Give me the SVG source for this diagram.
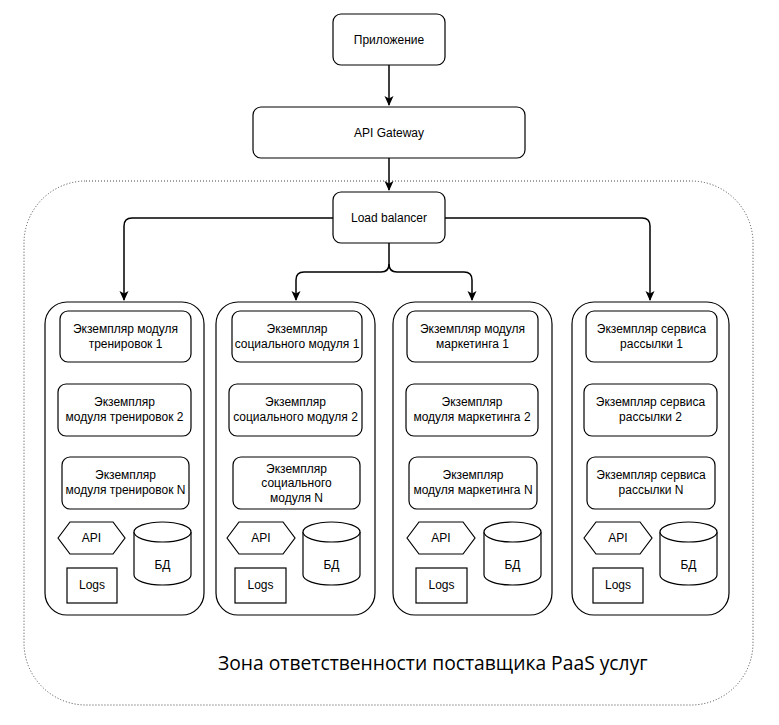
<svg xmlns="http://www.w3.org/2000/svg" width="779" height="725" viewBox="0 0 779 725">
<defs>
<style>
.box{fill:#fff;stroke:#000;stroke-width:1.2}
.col{fill:#fff;stroke:#000;stroke-width:1.2}
.t{font-family:"Liberation Sans",Arial,sans-serif;font-size:12px;fill:#000;text-anchor:middle}
.conn{fill:none;stroke:#000;stroke-width:1.5}
.zone{fill:none;stroke:#444;stroke-width:1;stroke-dasharray:1 2}
.big{font-family:"Open Sans","Noto Sans",sans-serif;font-size:19.3px;fill:#000}
</style>
<marker id="arr" markerWidth="11" markerHeight="11" refX="9" refY="5" orient="auto" markerUnits="userSpaceOnUse" viewBox="0 0 11 11">
<path d="M0,0.5 L10,5 L0,9.5 L2.5,5 Z" fill="#000"/>
</marker>
</defs>
<rect width="779" height="725" fill="#fff"/>
<g id="zone">
<rect class="zone" x="24" y="181" width="729" height="524" rx="62" ry="62"/>
<text class="big" x="218" y="670">Зона ответственности поставщика PaaS услуг</text>
</g>
<g id="connectors">
<path class="conn" d="M389,65 L389,105" marker-end="url(#arr)"/>
<path class="conn" d="M389,158 L389,190" marker-end="url(#arr)"/>
<path class="conn" d="M333,218 L132,218 Q124,218 124,226 L124,300" marker-end="url(#arr)"/>
<path class="conn" d="M445,218 L642,218 Q650,218 650,226 L650,300" marker-end="url(#arr)"/>
<path class="conn" d="M389,243 L389,264 Q389,272 381,272 L304,272 Q296,272 296,280 L296,300" marker-end="url(#arr)"/>
<path class="conn" d="M389,264 Q389,272 397,272 L464,272 Q472,272 472,280 L472,300" marker-end="url(#arr)"/>
</g>
<g id="app"><rect class="box" x="333" y="14" width="112" height="51" rx="8"/><text class="t" x="389" y="44">Приложение</text></g>
<g id="gateway"><rect class="box" x="253" y="107" width="272" height="51" rx="8"/><text class="t" x="389" y="137">API Gateway</text></g>
<g id="lb"><rect class="box" x="333" y="192" width="112" height="51" rx="8"/><text class="t" x="389" y="222">Load balancer</text></g>

<g id="col1">
<rect class="col" x="45" y="302" width="159" height="313" rx="22"/>
<rect class="box" x="60" y="311" width="131" height="51" rx="8"/>
<text class="t" x="125.5" y="333">Экземпляр модуля</text><text class="t" x="125.5" y="348">тренировок 1</text>
<rect class="box" x="58" y="384" width="133" height="52" rx="8"/>
<text class="t" x="124.5" y="406">Экземпляр</text><text class="t" x="124.5" y="421">модуля тренировок 2</text>
<rect class="box" x="62" y="457" width="127" height="52" rx="8"/>
<text class="t" x="125.5" y="479">Экземпляр</text><text class="t" x="125.5" y="494">модуля тренировок N</text>
<polygon class="box" points="58,538 70,522 113,522 125,538 113,554 70,554"/><text class="t" x="91.5" y="542">API</text>
<path class="box" d="M134,532 A28.5,10 0 0 1 191,532 L191,575 A28.5,10 0 0 1 134,575 Z"/><path class="box" fill="none" d="M134,532 A28.5,10 0 0 0 191,532"/><text class="t" x="162.5" y="569">БД</text>
<rect class="box" x="67" y="568" width="50" height="35"/><text class="t" x="92" y="589">Logs</text>
</g>

<g id="col2">
<rect class="col" x="216" y="302" width="159" height="313" rx="22"/>
<rect class="box" x="232" y="311" width="130" height="51" rx="8"/>
<text class="t" x="297" y="333">Экземпляр</text><text class="t" x="297" y="348">социального модуля 1</text>
<rect class="box" x="229" y="384" width="133" height="52" rx="8"/>
<text class="t" x="295.5" y="406">Экземпляр</text><text class="t" x="295.5" y="421">социального модуля 2</text>
<rect class="box" x="233" y="457" width="127" height="52" rx="8"/>
<text class="t" x="296.5" y="473">Экземпляр</text><text class="t" x="296.5" y="487">социального</text><text class="t" x="296.5" y="502">модуля N</text>
<polygon class="box" points="227,538 239,522 283,522 295,538 283,554 239,554"/><text class="t" x="261" y="542">API</text>
<path class="box" d="M303,532 A28.5,10 0 0 1 360,532 L360,575 A28.5,10 0 0 1 303,575 Z"/><path class="box" fill="none" d="M303,532 A28.5,10 0 0 0 360,532"/><text class="t" x="331.5" y="569">БД</text>
<rect class="box" x="235" y="568" width="51" height="35"/><text class="t" x="260.5" y="589">Logs</text>
</g>

<g id="col3">
<rect class="col" x="393" y="302" width="159" height="313" rx="22"/>
<rect class="box" x="407" y="311" width="131" height="51" rx="8"/>
<text class="t" x="472.5" y="333">Экземпляр модуля</text><text class="t" x="472.5" y="348">маркетинга 1</text>
<rect class="box" x="406" y="384" width="132" height="52" rx="8"/>
<text class="t" x="472" y="406">Экземпляр</text><text class="t" x="472" y="421">модуля маркетинга 2</text>
<rect class="box" x="409" y="457" width="128" height="52" rx="8"/>
<text class="t" x="473" y="479">Экземпляр</text><text class="t" x="473" y="494">модуля маркетинга N</text>
<polygon class="box" points="407,538 419,522 463,522 475,538 463,554 419,554"/><text class="t" x="441" y="542">API</text>
<path class="box" d="M484,532 A28.5,10 0 0 1 541,532 L541,575 A28.5,10 0 0 1 484,575 Z"/><path class="box" fill="none" d="M484,532 A28.5,10 0 0 0 541,532"/><text class="t" x="512.5" y="569">БД</text>
<rect class="box" x="416" y="568" width="51" height="35"/><text class="t" x="441.5" y="589">Logs</text>
</g>

<g id="col4">
<rect class="col" x="572" y="302" width="157" height="313" rx="22"/>
<rect class="box" x="586" y="311" width="131" height="51" rx="8"/>
<text class="t" x="651.5" y="333">Экземпляр сервиса</text><text class="t" x="651.5" y="348">рассылки 1</text>
<rect class="box" x="584" y="384" width="133" height="52" rx="8"/>
<text class="t" x="650.5" y="406">Экземпляр сервиса</text><text class="t" x="650.5" y="421">рассылки 2</text>
<rect class="box" x="587" y="457" width="128" height="52" rx="8"/>
<text class="t" x="651" y="479">Экземпляр сервиса</text><text class="t" x="651" y="494">рассылки N</text>
<polygon class="box" points="584,538 596,522 640,522 652,538 640,554 596,554"/><text class="t" x="618" y="542">API</text>
<path class="box" d="M660,532 A28.5,10 0 0 1 717,532 L717,575 A28.5,10 0 0 1 660,575 Z"/><path class="box" fill="none" d="M660,532 A28.5,10 0 0 0 717,532"/><text class="t" x="688.5" y="569">БД</text>
<rect class="box" x="593" y="568" width="50" height="35"/><text class="t" x="618" y="589">Logs</text>
</g>
</svg>
